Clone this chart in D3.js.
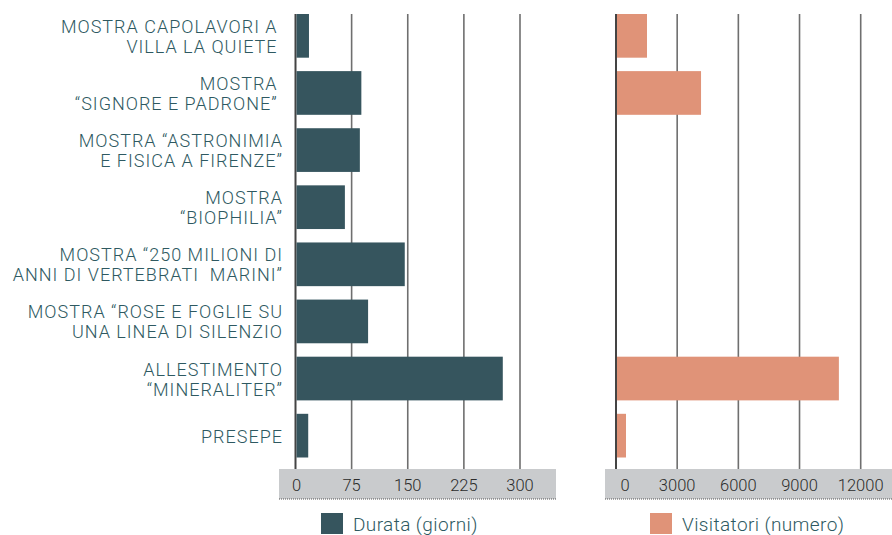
<!DOCTYPE html>
<html>
<head>
<meta charset="utf-8">
<script src="https://cdn.jsdelivr.net/npm/d3@7"></script>
<style>
  body { margin: 0; background: #fff; }
  svg text { white-space: pre; }
</style>
</head>
<body>
<svg id="chart" width="892" height="535"></svg>
<script>
// ----------------------------
// Data
// ----------------------------
const categories = [
  ["MOSTRA CAPOLAVORI A ", "VILLA LA QUIETE "],
  ["MOSTRA ", "\u201CSIGNORE E PADRONE\u201D "],
  ["MOSTRA \u201CASTRONIMIA", "E FISICA A FIRENZE\u201D"],
  ["MOSTRA", "\u201CBIOPHILIA\u201D"],
  ["MOSTRA \u201C250 MILIONI DI", "ANNI DI VERTEBRATI  MARINI\u201D"],
  ["MOSTRA \u201CROSE E FOGLIE SU", "UNA LINEA DI SILENZIO"],
  ["ALLESTIMENTO", "\u201CMINERALITER\u201D"],
  ["PRESEPE"]
];
const durata = [18, 88, 86, 66, 146, 97, 277, 17];
const visitatori = [1520, 4170, 0, 0, 0, 0, 10930, 490];
const durataTicks = [0, 75, 150, 225, 300];
const visitatoriTicks = [0, 3000, 6000, 9000, 12000];

// ----------------------------
// Plotting
// ----------------------------
const svg = d3.select("#chart");
const font = "Roboto, sans-serif";
const teal = "#2e5961";

const y = d3.scaleBand()
    .domain(d3.range(categories.length))
    .range([14, 457.5])
    .paddingInner(0.235)
    .paddingOuter(0);
const gridTop = 14, bandTop = 469, bandBottom = 499;

function drawPanel(values, ticks, xScale, color, band, legend, zeroShift) {
  const g = svg.append("g");

  // grey strip behind the tick labels
  g.append("rect")
      .attr("x", band[0]).attr("y", bandTop)
      .attr("width", band[1] - band[0]).attr("height", bandBottom - bandTop)
      .attr("fill", "#c9cbcd");
  g.append("line")
      .attr("x1", band[0]).attr("x2", band[1])
      .attr("y1", bandBottom).attr("y2", bandBottom)
      .attr("stroke", "#555").attr("stroke-width", 1)
      .attr("stroke-dasharray", "1,1");

  // grid lines
  g.selectAll("line.grid").data(ticks).join("line")
      .attr("class", "grid")
      .attr("x1", d => xScale(d)).attr("x2", d => xScale(d))
      .attr("y1", gridTop).attr("y2", bandTop)
      .attr("stroke", d => d === 0 ? "#444" : "#6f6f6f")
      .attr("stroke-width", d => d === 0 ? 2 : 1.6);

  g.selectAll("text.tick").data(ticks).join("text")
      .attr("class", "tick")
      .attr("x", d => xScale(d) + (d === 0 ? zeroShift : 0))
      .attr("y", 491)
      .attr("text-anchor", "middle")
      .attr("font-family", font)
      .attr("font-size", 16.5)
      .attr("font-weight", 300)
      .attr("fill", "#2b2b2b")
      .text(d => d);

  // bars
  g.selectAll("rect.bar").data(values).join("rect")
      .attr("class", "bar")
      .attr("x", xScale(0) + 1)
      .attr("y", (d, i) => y(i))
      .attr("width", d => Math.max(0, xScale(d) - xScale(0) - 1))
      .attr("height", y.bandwidth())
      .attr("fill", color);

  // legend
  g.append("rect")
      .attr("x", legend[0]).attr("y", 513)
      .attr("width", 22).attr("height", 21)
      .attr("fill", color);
  g.append("text")
      .attr("x", legend[0] + 32).attr("y", 531)
      .attr("font-family", font)
      .attr("font-size", 19)
      .attr("font-weight", 300)
      .attr("letter-spacing", 0.4)
      .attr("fill", teal)
      .text(legend[1]);
}

const xDur = d3.scaleLinear().domain([0, 300]).range([295.5, 520]);
const xVis = d3.scaleLinear().domain([0, 12000]).range([616, 860.7]);

drawPanel(durata, durataTicks, xDur, "#36555e", [279, 556], [321, "Durata (giorni)"], 1.2);
drawPanel(visitatori, visitatoriTicks, xVis, "#e09378", [605, 892], [650, "Visitatori (numero)"], 9);

// category labels
const labels = svg.append("g");
categories.forEach((lines, i) => {
  const cy = y(i) + y.bandwidth() / 2;
  const lh = 20;
  const t = labels.append("text")
      .attr("text-anchor", "end")
      .attr("font-family", font)
      .attr("font-size", 18)
      .attr("font-weight", 300)
      .attr("letter-spacing", 1)
      .attr("fill", teal);
  lines.forEach((s, k) => {
    t.append("tspan")
        .attr("x", 283)
        .attr("y", cy + 7 + (k - (lines.length - 1) / 2) * lh)
        .text(s);
  });
});
</script>
</body>
</html>
